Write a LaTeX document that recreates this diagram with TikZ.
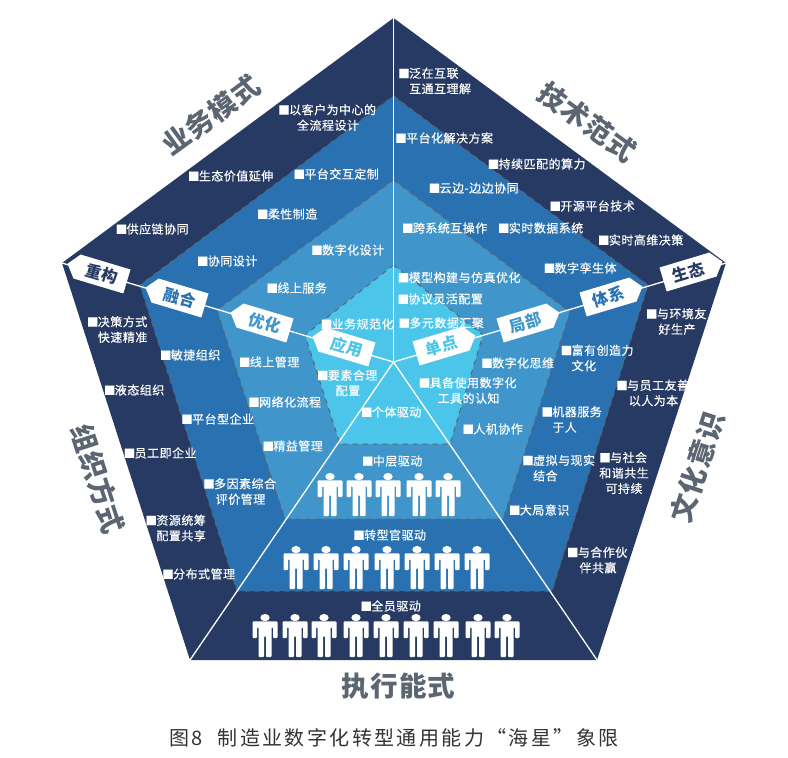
\documentclass[tikz,border=0pt]{standalone}
\usepackage{fontspec}
\setmainfont[LetterSpace=4,UprightFeatures={FakeBold=0.4}]{Noto Sans CJK SC}
\newfontfamily\capfont[LetterSpace=12]{Noto Sans CJK SC}
\usetikzlibrary{shapes.symbols}
\definecolor{navy}{HTML}{263A63}
\definecolor{deepblue}{HTML}{2971B0}
\definecolor{midblue}{HTML}{4096CB}
\definecolor{lightblue}{HTML}{4CC5EA}
\definecolor{slate}{HTML}{5C6572}
\newcommand{\bl}{{\fontsize{11.5}{11.5}\selectfont\kern-1.7pt■\kern-0.6pt}}

\begin{document}
\begin{tikzpicture}[x=1pt, y=-1pt,
	ring/.style={draw=slate, dashed, dash pattern=on 5pt off 5pt, line width=1pt},
	spoke/.style={draw=white, line width=1.3pt},
	lbl/.style={text=white, inner sep=0pt, align=center, font=\fontsize{12}{15.5}\selectfont},
	lbll/.style={lbl, align=left},
	title/.style={text=slate, inner sep=0pt, font=\bfseries\fontsize{27.5}{30}\selectfont},
	tag/.style={shape=signal, fill=white, inner sep=0pt, minimum width=62pt, minimum height=25pt, signal pointer angle=103, font=\bfseries\fontsize{16}{17}\selectfont},
	ltag/.style={tag, signal to=west, rotate=-16.7},
	rtag/.style={tag, signal to=east, rotate=16.7},
	person/.pic={
		\fill[white] (0,3.6) ellipse (4.7 and 3.6);
		\fill[white, rounded corners=1pt] (-12.5,7.4) -- (12.5,7.4) -- (12.5,24) -- (8,24) -- (8,13) -- (6.5,13) -- (6.5,43) -- (1,43) -- (1,22) -- (-1,22) -- (-1,43) -- (-6.5,43) -- (-6.5,13) -- (-8,13) -- (-8,24) -- (-12.5,24) -- cycle;
	}]
	\useasboundingbox (0,0) rectangle (788,758);

	\coordinate (ctr) at (393.5,362);
	\coordinate (a1) at (393.5,18);
	\coordinate (a2) at (726,263);
	\coordinate (a3) at (597,660);
	\coordinate (a4) at (190,660);
	\coordinate (a5) at (62,263);
	\coordinate (b1) at (393.5,96);
	\coordinate (b2) at (648,285);
	\coordinate (b3) at (552,591);
	\coordinate (b4) at (237,591);
	\coordinate (b5) at (140,285);
	\coordinate (c1) at (393.5,180);
	\coordinate (c2) at (570,312);
	\coordinate (c3) at (503,519);
	\coordinate (c4) at (285,519);
	\coordinate (c5) at (217,310);
	\coordinate (d1) at (393.5,265);
	\coordinate (d2) at (483,335);
	\coordinate (d3) at (450,444);
	\coordinate (d4) at (340,444);
	\coordinate (d5) at (305,335);

	\fill[navy] (a1) -- (a2) -- (a3) -- (a4) -- (a5) -- cycle;
	\filldraw[ring, fill=deepblue] (b1) -- (b2) -- (b3) -- (b4) -- (b5) -- cycle;
	\filldraw[ring, fill=midblue] (c1) -- (c2) -- (c3) -- (c4) -- (c5) -- cycle;
	\filldraw[ring, fill=lightblue] (d1) -- (d2) -- (d3) -- (d4) -- (d5) -- cycle;

	\draw[spoke] (ctr) -- (a1);
	\draw[spoke] (ctr) -- (a2);
	\draw[spoke] (ctr) -- (a3);
	\draw[spoke] (ctr) -- (a4);
	\draw[spoke] (ctr) -- (a5);

	\node[ltag, text=navy] (chonggou) at (102,274) {重构};
	\node[ltag, text=deepblue] (ronghe) at (180,298) {融合};
	\node[ltag, text=midblue] (youhua) at (265,323) {优化};
	\node[ltag, text=lightblue] (yingyong) at (347,347) {应用};
	\node[rtag, text=lightblue] (dandian) at (441,346) {单点};
	\node[rtag, text=midblue] (jubu) at (525,323) {局部};
	\node[rtag, text=deepblue] (tixi) at (608,297) {体系};
	\node[rtag, text=navy] (shengtai) at (688,272) {生态};

	\node[title, rotate=36] (yewu) at (211,115) {业务模式};
	\node[title, rotate=-36] (jishu) at (587,122) {技术范式};
	\node[title, rotate=-72] (zuzhi) at (98,479) {组织方式};
	\node[title, rotate=72] (wenhua) at (697,467) {文化意识};
	\node[title] (zhixing) at (398.5,686) {执行能式};
	\node[inner sep=0pt, text=black!80, font=\capfont\fontsize{20}{22}\selectfont] (caption) at (394,738) {图8\hspace{8pt} 制造业数字化转型通用能力“海星”象限};

	\node[lbl] (n1) at (328,117.5) {\bl 以客户为中心的\\全流程设计};
	\node[lbl] (n2) at (231.5,176) {\bl 生态价值延伸};
	\node[lbl] (n3) at (337,174) {\bl 平台交互定制};
	\node[lbl] (n4) at (288,214) {\bl 柔性制造};
	\node[lbl] (n5) at (153,229) {\bl 供应链协同};
	\node[lbl] (n6) at (348.5,250) {\bl 数字化设计};
	\node[lbl] (n7) at (228,261) {\bl 协同设计};
	\node[lbl] (n8) at (297.5,288) {\bl 线上服务};
	\node[lbl] (n9) at (358,324) {\bl 业务规范化};

	\node[lbll] (t1) at (435.5,81) {\bl 泛在互联\\\phantom{\bl}互通互理解};
	\node[lbl] (t2) at (445,138) {\bl 平台化解决方案};
	\node[lbl] (t3) at (537.5,164) {\bl 持续匹配的算力};
	\node[lbl] (t4) at (474.5,188) {\bl 云边-边边协同};
	\node[lbl] (t5) at (593,206) {\bl 开源平台技术};
	\node[lbl] (t6) at (445.5,228) {\bl 跨系统互操作};
	\node[lbl] (t7) at (541.5,228) {\bl 实时数据系统};
	\node[lbl] (t8) at (641.5,240) {\bl 实时高维决策};
	\node[lbl] (t9) at (581,268) {\bl 数字孪生体};
	\node[lbl] (t10) at (460,277.5) {\bl 模型构建与仿真优化};
	\node[lbl] (t11) at (441,299) {\bl 协议灵活配置};
	\node[lbl] (t12) at (442,323) {\bl 多元数据汇聚};

	\node[lbl] (c1l) at (677,321.5) {\bl 与环境友\\好生产};
	\node[lbll] (c2l) at (598,358) {\bl 富有创造力\\\phantom{\bl}文化};
	\node[lbl] (c3l) at (518.5,363) {\bl 数字化思维};
	\node[lbl] (c4l) at (468.5,390.5) {\bl 具备使用数字化\\工具的认知};
	\node[lbl] (c5l) at (653.5,393) {\bl 与员工友善\\以人为本};
	\node[lbll] (c6l) at (572.5,419.5) {\bl 机器服务\\\phantom{\bl}于人};
	\node[lbl] (c7l) at (493.5,429) {\bl 人机协作};
	\node[lbl] (c8l) at (624,473) {\bl 与社会\\和谐共生\\可持续};
	\node[lbll] (c9l) at (559.5,468) {\bl 虚拟与现实\\\phantom{\bl}结合};
	\node[lbl] (c10l) at (540,510) {\bl 大局意识};
	\node[lbl] (c11l) at (598,560) {\bl 与合作伙\\伴共赢};

	\node[lbll] (o1) at (118,329.5) {\bl 决策方式\\\phantom{\bl}快速精准};
	\node[lbl] (o2) at (191,355) {\bl 敏捷组织};
	\node[lbl] (o3) at (135,390) {\bl 液态组织};
	\node[lbl] (o4) at (270,362) {\bl 线上管理};
	\node[lbl] (o5) at (348,383) {\bl 要素合理\\配置};
	\node[lbl] (o6) at (285.5,402) {\bl 网络化流程};
	\node[lbl] (o7) at (218.5,419) {\bl 平台型企业};
	\node[lbl] (o8) at (293.5,446) {\bl 精益管理};
	\node[lbl] (o9) at (161,453) {\bl 员工即企业};
	\node[lbl] (o10) at (240.5,491.5) {\bl 多因素综合\\评价管理};
	\node[lbll] (o11) at (176.5,528) {\bl 资源统筹\\\phantom{\bl}配置共享};
	\node[lbl] (o12) at (199.5,574) {\bl 分布式管理};

	\node[lbl] (e1) at (392,412) {\bl 个体驱动};
	\node[lbl] (e2) at (393,461) {\bl 中层驱动};
	\node[lbl] (e3) at (390.5,535) {\bl 转型官驱动};
	\node[lbl] (e4) at (391.5,606) {\bl 全员驱动};

	\pic at (330,473) {person}; \pic at (359,473) {person}; \pic at (388,473) {person}; \pic at (419,473) {person}; \pic at (448,473) {person};
	\pic at (296,546) {person}; \pic at (326,546) {person}; \pic at (356,546) {person}; \pic at (387,546) {person}; \pic at (417,546) {person}; \pic at (447,546) {person}; \pic at (477,546) {person};
	\pic at (265,614) {person}; \pic at (295,614) {person}; \pic at (324,614) {person}; \pic at (356,614) {person}; \pic at (386,614) {person}; \pic at (416,614) {person}; \pic at (446,614) {person}; \pic at (478,614) {person}; \pic at (507,614) {person};
\end{tikzpicture}
\end{document}
